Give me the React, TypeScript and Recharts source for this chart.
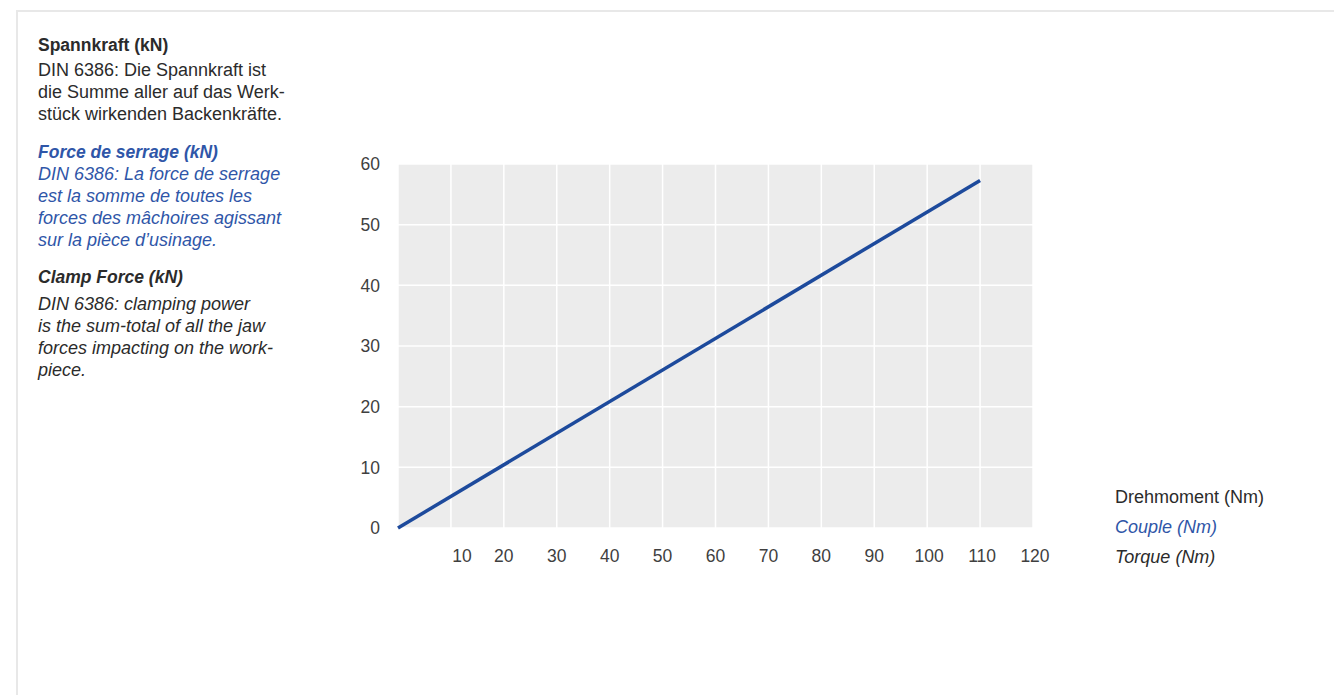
import { LineChart, Line, XAxis, YAxis, CartesianGrid } from "recharts";

// torque (Nm) vs clamp force (kN)
const torque = [0, 110];
const clampForce = [0, 57.3];

const xTicks = [10, 20, 30, 40, 50, 60, 70, 80, 90, 100, 110, 120];
const yTicks = [0, 10, 20, 30, 40, 50, 60];

const data = torque.map((t, i) => ({ torque: t, force: clampForce[i] }));

const FONT = "'Liberation Sans', Arial, Helvetica, sans-serif";
const BLUE = "#2f56a8";
const DARK = "#2b2b2b";
const TICK = "#3f3f3f";

const deLines = [
  "DIN 6386: Die Spannkraft ist",
  "die Summe aller auf das Werk-",
  "stück wirkenden Backenkräfte.",
];
const frLines = [
  "DIN 6386: La force de serrage",
  "est la somme de toutes les",
  "forces des mâchoires agissant",
  "sur la pièce d’usinage.",
];
const enLines = [
  "DIN 6386: clamping power",
  "is the sum-total of all the jaw",
  "forces impacting on the work-",
  "piece.",
];

const XTick = (props: any) => {
  const { x, y, payload } = props;
  // the "10" label sits a little right of its grid line in the original
  const shift = payload.value === 10 ? 11 : payload.value >= 100 ? 2 : 0;
  return (
    <text x={x + shift} y={y} dy="0.71em" textAnchor="middle" fill={TICK} fontSize={17.5} fontFamily={FONT}>
      {payload.value}
    </text>
  );
};

function Block({ title, lines, color, italic, gap }: { title: string; lines: string[]; color: string; italic: boolean; gap: number }) {
  return (
    <div style={{ color, fontStyle: italic ? "italic" : "normal" }}>
      <div style={{ fontWeight: 700, lineHeight: "22px", marginBottom: gap, fontSize: 17.5 }}>{title}</div>
      {lines.map((l) => (
        <div key={l} style={{ lineHeight: "22px", whiteSpace: "nowrap" }}>
          {l}
        </div>
      ))}
    </div>
  );
}

export default function App() {
  return (
    <div
      style={{
        position: "absolute",
        left: 0,
        top: 0,
        width: 1334,
        height: 695,
        overflow: "hidden",
        background: "#fff",
        fontFamily: FONT,
        fontSize: 18,
      }}
    >
      <div
        style={{
          position: "absolute",
          left: 16,
          top: 10,
          width: 1400,
          height: 800,
          border: "2px solid #e8e8e8",
        }}
      />

      <div style={{ position: "absolute", left: 38, top: 34 }}>
        <Block title="Spannkraft (kN)" lines={deLines} color={DARK} italic={false} gap={3} />
        <div style={{ height: 16 }} />
        <Block title="Force de serrage (kN)" lines={frLines} color={BLUE} italic={true} gap={0} />
        <div style={{ height: 15 }} />
        <Block title="Clamp Force (kN)" lines={enLines} color={DARK} italic={true} gap={5} />
      </div>

      <div style={{ position: "absolute", left: 340, top: 140 }}>
        <LineChart width={720} height={440} data={data} margin={{ top: 24, right: 27, bottom: 12, left: 0 }}>
          <CartesianGrid fill="#ececec" stroke="#ffffff" strokeWidth={1.5} />
          <XAxis
            type="number"
            dataKey="torque"
            domain={[0, 120]}
            ticks={xTicks}
            axisLine={false}
            tickLine={false}
            tickSize={0}
            tickMargin={22}
            height={40}
            tick={<XTick />}
          />
          <YAxis
            type="number"
            domain={[0, 60]}
            ticks={yTicks}
            axisLine={false}
            tickLine={false}
            tickSize={0}
            tickMargin={18}
            width={58}
            tick={{ fill: TICK, fontSize: 17.5, fontFamily: FONT }}
          />
          <Line
            type="linear"
            dataKey="force"
            stroke="#1d4a9c"
            strokeWidth={3.5}
            dot={false}
            isAnimationActive={false}
          />
        </LineChart>
      </div>

      <div style={{ position: "absolute", left: 1115, top: 482, fontSize: 18, lineHeight: "30px" }}>
        <div style={{ color: DARK }}>Drehmoment (Nm)</div>
        <div style={{ color: BLUE, fontStyle: "italic" }}>Couple (Nm)</div>
        <div style={{ color: DARK, fontStyle: "italic" }}>Torque (Nm)</div>
      </div>
    </div>
  );
}
